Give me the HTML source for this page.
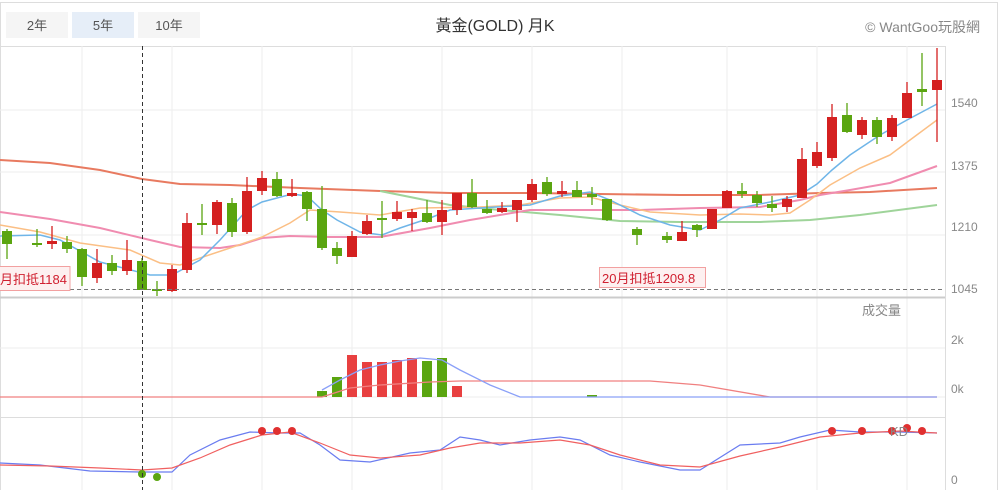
<!DOCTYPE html>
<html><head><meta charset="utf-8"><style>
body{margin:0;background:#fff;width:1000px;height:490px;overflow:hidden;font-family:"Liberation Sans","Noto Sans CJK TC",sans-serif}
</style></head><body>
<svg id="s" width="1000" height="490" xmlns="http://www.w3.org/2000/svg" style="position:absolute;left:0;top:0;font-family:'Liberation Sans','Noto Sans CJK TC',sans-serif">
<rect x="0.5" y="2.5" width="997" height="490" fill="#fff" stroke="#ddd"/>
<rect x="6" y="12" width="62" height="26" fill="#f5f5f5"/>
<rect x="72" y="12" width="62" height="26" fill="#e6eef8"/>
<rect x="138" y="12" width="62" height="26" fill="#f5f5f5"/>
<text x="37" y="30" font-size="13" fill="#555" text-anchor="middle">2年</text>
<text x="103" y="30" font-size="13" fill="#555" text-anchor="middle">5年</text>
<text x="169" y="30" font-size="13" fill="#555" text-anchor="middle">10年</text>
<text x="495" y="31" font-size="16" fill="#333" text-anchor="middle">黃金(GOLD) 月K</text>
<text x="980" y="32" font-size="14" fill="#888" text-anchor="end">© WantGoo玩股網</text>
<line x1="0" y1="46.5" x2="945" y2="46.5" stroke="#ddd"/>
<line x1="945.5" y1="46" x2="945.5" y2="490" stroke="#ddd"/>
<g stroke="#eee">
<line x1="82" y1="46" x2="82" y2="490"/><line x1="172" y1="46" x2="172" y2="490"/><line x1="262" y1="46" x2="262" y2="490"/><line x1="352" y1="46" x2="352" y2="490"/><line x1="442" y1="46" x2="442" y2="490"/><line x1="532" y1="46" x2="532" y2="490"/><line x1="622" y1="46" x2="622" y2="490"/><line x1="727" y1="46" x2="727" y2="490"/><line x1="817" y1="46" x2="817" y2="490"/><line x1="907" y1="46" x2="907" y2="490"/>
<line x1="0" y1="110" x2="945" y2="110"/><line x1="0" y1="172" x2="945" y2="172"/><line x1="0" y1="235" x2="945" y2="235"/>
<line x1="0" y1="348" x2="945" y2="348"/><line x1="0" y1="397" x2="945" y2="397"/>
</g>
<line x1="0" y1="297.5" x2="945" y2="297.5" stroke="#ccc" stroke-width="2"/>
<line x1="0" y1="417.5" x2="945" y2="417.5" stroke="#ddd"/>
<g font-size="12" fill="#888">
<text x="951" y="107">1540</text><text x="951" y="170">1375</text><text x="951" y="231">1210</text><text x="951" y="293">1045</text>
<text x="951" y="344">2k</text><text x="951" y="393">0k</text><text x="951" y="484">0</text>
<text x="862" y="315" font-size="13">成交量</text>
</g>
<g id="ma" fill="none" stroke-width="1.5"></g>
<g id="c"></g>
<g id="v"></g>
<line x1="0" y1="289.5" x2="945" y2="289.5" stroke="#777" stroke-dasharray="4,3"/>
<line x1="142.5" y1="46" x2="142.5" y2="490" stroke="#333" stroke-dasharray="4,3"/>
<rect x="-2" y="266.5" width="72" height="24" fill="#fdf0f0" stroke="#f2a0a0"/>
<text x="0" y="284" font-size="13" fill="#d02030">月扣抵1184</text>
<rect x="599.5" y="267.5" width="106" height="20" fill="#fdf0f0" stroke="#f2a0a0"/>
<text x="602" y="283" font-size="13" fill="#d02030">20月扣抵1209.8</text>
<text x="890" y="436" font-size="13" fill="#888">KD</text>
</svg>
<script>
var R="#d42020",G="#5aa510",ns="http://www.w3.org/2000/svg";
function el(p,t,a){var e=document.createElementNS(ns,t);for(var k in a)e.setAttribute(k,a[k]);document.getElementById(p).appendChild(e);}
var C=[[7,'g',231,244,229,259],[37,'g',243,245,229,247],[52,'r',241,244,226,249],[67,'g',242,249,236,253],[82,'g',249,277,248,286],[97,'r',263,278,249,283],[112,'g',263,271,255,275],[127,'r',260,271,240,275],[142,'g',261,290,258,290],[157,'g',289,291,281,296],[172,'r',269,291,265,292],[187,'r',223,270,213,273],[202,'g',223,225,204,235],[217,'r',202,225,200,234],[232,'g',203,232,198,237],[247,'r',191,232,177,234],[262,'r',178,191,171,195],[277,'g',179,196,172,197],[292,'r',193,196,179,197],[307,'g',192,209,191,221],[322,'g',209,248,186,250],[337,'g',248,256,242,264],[352,'r',236,257,231,257],[367,'r',221,234,215,235],[382,'g',218,220,201,238],[397,'r',212,219,201,221],[412,'r',212,218,209,231],[427,'g',213,222,200,223],[442,'r',210,222,200,235],[457,'r',193,210,193,215],[472,'g',193,207,179,208],[487,'g',209,213,200,214],[502,'r',208,212,202,213],[517,'r',200,210,200,222],[532,'r',184,200,179,202],[547,'g',182,194,177,196],[562,'r',191,194,181,197],[577,'g',190,197,181,197],[592,'g',194,197,187,205],[607,'g',199,220,199,221],[637,'g',229,235,227,245],[667,'g',236,240,232,243],[682,'r',232,241,221,241],[697,'g',225,230,224,237],[712,'r',209,229,209,229],[727,'r',191,208,190,208],[742,'g',191,194,183,198],[757,'g',195,203,191,207],[772,'g',204,208,196,212],[787,'r',199,207,196,212],[802,'r',159,198,148,198],[817,'r',152,166,142,168],[832,'r',117,158,104,161],[847,'g',115,132,103,133],[862,'r',120,135,117,139],[877,'g',120,137,117,144],[892,'r',118,137,115,141],[907,'r',93,118,82,118],[922,'g',89,92,53,106],[937,'r',80,90,48,142]];
C.forEach(function(c){var col=c[1]=='r'?R:G;el('c','line',{x1:c[0],x2:c[0],y1:c[4],y2:c[5],stroke:col,'stroke-width':1.3});el('c','rect',{x:c[0]-5,y:c[2],width:10,height:Math.max(2,c[3]-c[2]),fill:col});});
function pl(g,pts,col,w){el(g,'polyline',{points:pts,stroke:col,fill:'none','stroke-width':w||1.5});}
pl('ma',"0,160 50,163 100,170 142,179 180,184 230,185 300,188 380,191 450,193 530,193 600,194 680,195 760,195 820,193 870,192 937,188","#e87a60",2);
pl('ma',"380,191 450,205 500,210 560,215 620,221 680,222 760,222 810,220 860,215 937,205","#9fd49a",2);
pl('ma',"0,212 50,219 100,228 150,240 180,247 220,248 240,245 262,238 290,236 330,237 380,237 430,228 470,220 530,210 590,210 640,210 700,208 760,207 800,200 820,195 850,190 890,183 937,166","#f08cb0",2);
pl('ma',"0,225 40,232 80,243 130,250 160,263 180,265 200,258 230,248 262,237 290,223 310,210 340,212 380,215 420,208 480,207 520,205 560,198 590,197 620,205 650,212 700,215 740,214 770,215 790,213 810,200 830,185 860,168 890,155 910,140 937,120","#fbbf85");
pl('ma',"0,236 40,235 60,240 100,262 150,275 172,275 200,260 220,240 247,210 262,202 277,198 292,194 307,196 322,210 337,220 360,232 382,235 400,228 430,218 450,210 480,208 530,205 560,196 590,192 610,200 640,215 670,225 700,230 720,220 740,208 770,202 800,195 817,184 832,170 850,155 880,135 907,120 937,104","#6fb5e8");
[[322,391,G],[337,377,G],[352,355,R],[367,362,R],[382,362,R],[397,360,R],[412,358,R],[427,361,G],[442,358,G],[457,386,R],[592,395,G]].forEach(function(b){el('v','rect',{x:b[0]-5,y:b[1],width:10,height:397-b[1],fill:b[2]=='#d42020'?'#e84040':b[2]});});
pl('v',"0,397 322,397 350,388 380,385 430,382 460,381 650,381 700,385 770,397 937,397","#f08080",1.3);
pl('v',"322,390 340,380 360,370 380,365 400,361 420,358 442,360 460,370 490,385 520,397 937,397","#8aa0f8",1.3);
pl('v',"0,463 40,465 90,471 140,472 172,472 190,455 220,440 250,432 280,433 300,433 320,445 340,460 370,462 410,453 440,450 460,437 480,440 500,445 530,440 560,437 580,440 610,455 640,462 680,470 700,470 740,445 780,443 800,437 830,430 860,432 900,432 937,433","#6a7cf0",1.2);
pl('v',"0,465 50,466 100,468 142,470 172,468 200,458 230,445 262,435 290,432 320,443 350,455 380,458 420,455 450,448 480,443 520,443 560,440 590,445 620,455 660,465 700,467 740,456 780,447 820,437 860,433 900,431 937,433","#f06060",1.2);
[[262,431],[277,431],[292,431],[832,431],[862,431],[892,431],[907,428],[922,431]].forEach(function(p){el('v','circle',{cx:p[0],cy:p[1],r:4,fill:'#e03030'});});
[[142,474],[157,477]].forEach(function(p){el('v','circle',{cx:p[0],cy:p[1],r:4,fill:'#5aa510'});});
</script>
</body></html>
